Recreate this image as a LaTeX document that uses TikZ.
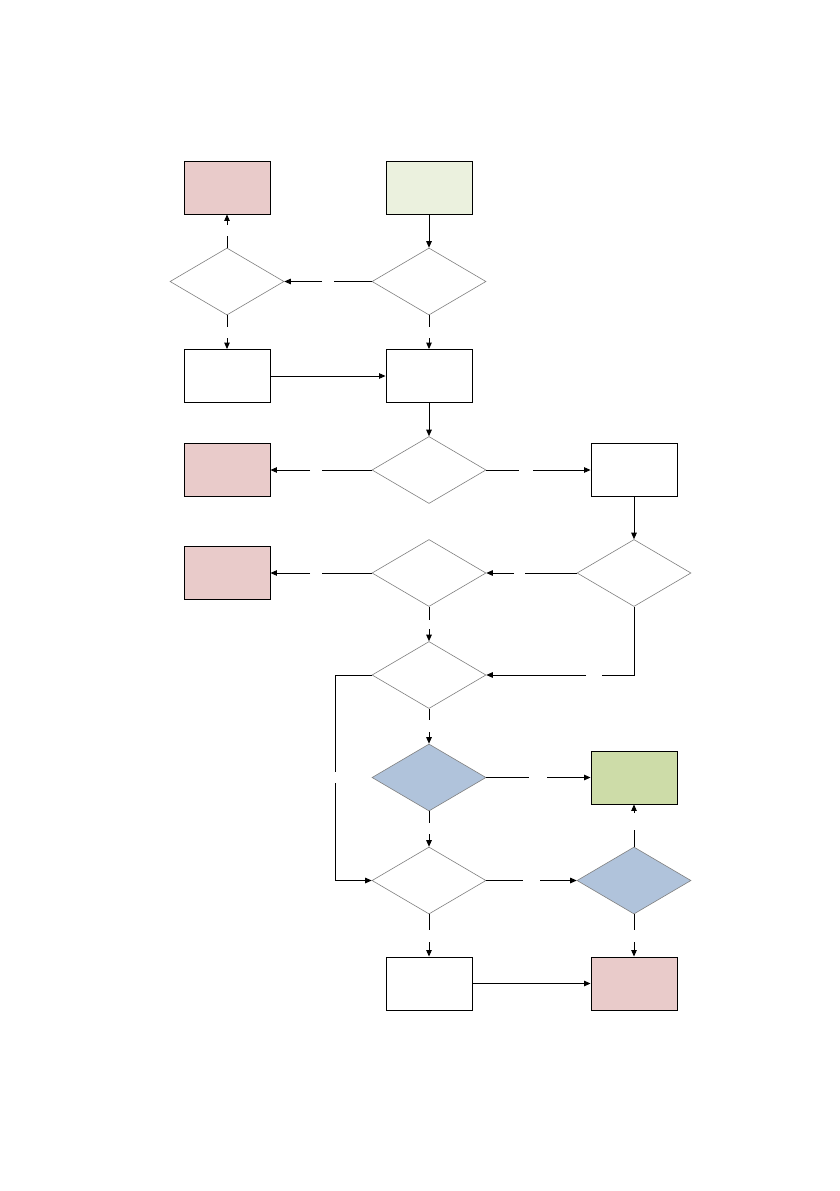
\documentclass[tikz,border=0pt]{standalone}
\usetikzlibrary{shapes.geometric,arrows.meta}
\definecolor{pinkfill}{HTML}{E9CBCA}
\definecolor{palegreen}{HTML}{EBF1DE}
\definecolor{midgreen}{HTML}{CDDCA8}
\definecolor{bluefill}{HTML}{B0C3DB}
\tikzset{
  box/.style={draw=black,line width=0.9pt,minimum width=86pt,minimum height=53pt,inner sep=0pt,rectangle},
  dec/.style={draw=gray,line width=0.6pt,diamond,minimum width=114pt,minimum height=67pt,inner sep=0pt},
  conn/.style={line width=0.9pt,black},
  arr/.style={conn,-{Triangle[length=6.5pt,width=5.5pt]}}
}
\begin{document}
\begin{tikzpicture}[x=1pt,y=-1pt]
\useasboundingbox (0,0) rectangle (839,1191);
\fill[white] (0,0) rectangle (839,1191);
% nodes
\node[box,fill=pinkfill] (A1) at (227,187.5) {};
\node[box,fill=palegreen] (B1) at (429,187.5) {};
\node[dec] (D2L) at (227,281.5) {};
\node[dec] (D2R) at (429,281.5) {};
\node[box] (A3) at (227,376) {};
\node[box] (B3) at (429,376) {};
\node[dec] (D4) at (429,470) {};
\node[box,fill=pinkfill] (A4) at (227,470) {};
\node[box] (C4) at (634,470) {};
\node[dec] (D5) at (429,573) {};
\node[box,fill=pinkfill] (A5) at (227,573) {};
\node[dec] (E5) at (634,573) {};
\node[dec] (D6) at (429,675) {};
\node[dec,fill=bluefill] (D7) at (429,777.5) {};
\node[box,fill=midgreen] (C7) at (634,777.5) {};
\node[dec] (D8) at (429,880.5) {};
\node[dec,fill=bluefill] (E8) at (634,880.5) {};
\node[box] (B9) at (429,983.5) {};
\node[box,fill=pinkfill] (C9) at (634,983.5) {};
% gap coordinates
\coordinate (g2a) at (334,281.5); \coordinate (g2b) at (322,281.5);
\coordinate (g3a) at (227,236); \coordinate (g3b) at (227,225);
\coordinate (g4a) at (227,327); \coordinate (g4b) at (227,338);
\coordinate (g5a) at (429,327); \coordinate (g5b) at (429,338);
\coordinate (g8a) at (322,470); \coordinate (g8b) at (310,470);
\coordinate (g9a) at (519,470); \coordinate (g9b) at (533,470);
\coordinate (g11a) at (525,573); \coordinate (g11b) at (514,573);
\coordinate (g12a) at (322,573); \coordinate (g12b) at (310,573);
\coordinate (g13a) at (429,620); \coordinate (g13b) at (429,629);
\coordinate (g14a) at (602,675); \coordinate (g14b) at (586,675);
\coordinate (g15a) at (335,772); \coordinate (g15b) at (335,783);
\coordinate (g16a) at (429,720); \coordinate (g16b) at (429,732);
\coordinate (g17a) at (529,777.5); \coordinate (g17b) at (547,777.5);
\coordinate (g18a) at (429,823); \coordinate (g18b) at (429,834);
\coordinate (g19a) at (523,880.5); \coordinate (g19b) at (540,880.5);
\coordinate (g20a) at (634,830); \coordinate (g20b) at (634,813);
\coordinate (g21a) at (634,930); \coordinate (g21b) at (634,942);
\coordinate (g22a) at (429,930); \coordinate (g22b) at (429,942);
% connectors
\draw[arr] (B1) -- (D2R);
\draw[conn] (D2R.west) -- (g2a); \draw[arr] (g2b) -- (D2L.east);
\draw[conn] (D2L.north) -- (g3a); \draw[arr] (g3b) -- (A1.south);
\draw[conn] (D2L.south) -- (g4a); \draw[arr] (g4b) -- (A3.north);
\draw[conn] (D2R.south) -- (g5a); \draw[arr] (g5b) -- (B3.north);
\draw[arr] (A3.east) -- (B3.west);
\draw[arr] (B3.south) -- (D4.north);
\draw[conn] (D4.west) -- (g8a); \draw[arr] (g8b) -- (A4.east);
\draw[conn] (D4.east) -- (g9a); \draw[arr] (g9b) -- (C4.west);
\draw[arr] (C4.south) -- (E5.north);
\draw[conn] (E5.west) -- (g11a); \draw[arr] (g11b) -- (D5.east);
\draw[conn] (D5.west) -- (g12a); \draw[arr] (g12b) -- (A5.east);
\draw[conn] (D5.south) -- (g13a); \draw[arr] (g13b) -- (D6.north);
\draw[conn] (E5.south) |- (g14a); \draw[arr] (g14b) -- (D6.east);
\draw[conn] (D6.west) -| (g15a); \draw[arr] (g15b) |- (D8.west);
\draw[conn] (D6.south) -- (g16a); \draw[arr] (g16b) -- (D7.north);
\draw[conn] (D7.east) -- (g17a); \draw[arr] (g17b) -- (C7.west);
\draw[conn] (D7.south) -- (g18a); \draw[arr] (g18b) -- (D8.north);
\draw[conn] (D8.east) -- (g19a); \draw[arr] (g19b) -- (E8.west);
\draw[conn] (E8.north) -- (g20a); \draw[arr] (g20b) -- (C7.south);
\draw[conn] (E8.south) -- (g21a); \draw[arr] (g21b) -- (C9.north);
\draw[conn] (D8.south) -- (g22a); \draw[arr] (g22b) -- (B9.north);
\draw[arr] (B9.east) -- (C9.west);
\end{tikzpicture}
\end{document}
